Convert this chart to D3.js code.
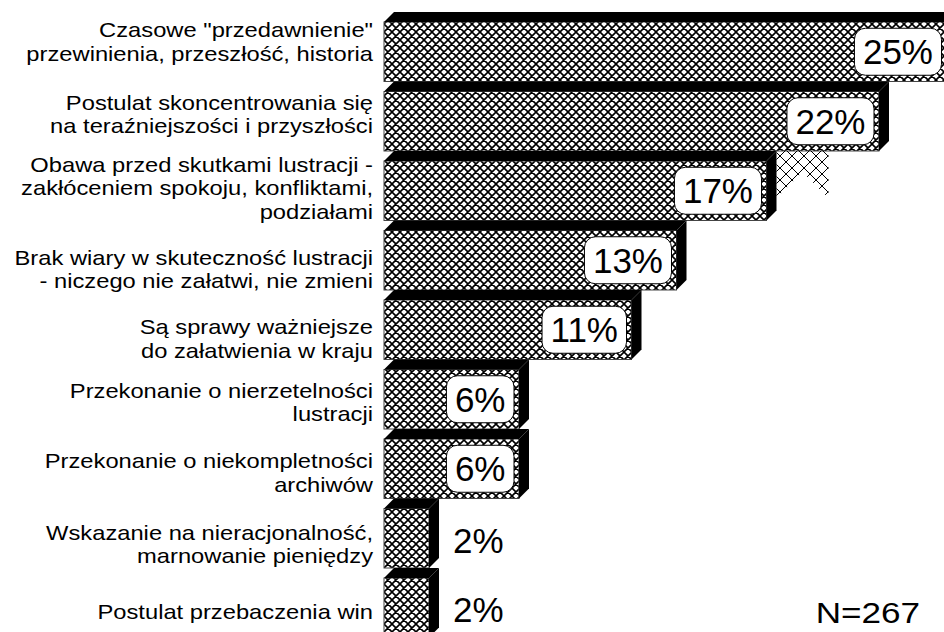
<!DOCTYPE html>
<html>
<head>
<meta charset="utf-8">
<script src="https://cdn.jsdelivr.net/npm/d3@7/dist/d3.min.js"></script>
<style>
  body { margin: 0; background: #fff; }
  svg { display: block; font-family: Arial, "Liberation Sans", sans-serif; }
</style>
</head>
<body>
<div id="chart"></div>
<script>
// categories (each entry is the lines of the left label)
const categories = [
  ["Czasowe \"przedawnienie\"", "przewinienia, przeszłość, historia"],
  ["Postulat skoncentrowania się", "na teraźniejszości i przyszłości"],
  ["Obawa przed skutkami lustracji -", "zakłóceniem spokoju, konfliktami,", "podziałami"],
  ["Brak wiary w skuteczność lustracji", "- niczego nie załatwi, nie zmieni"],
  ["Są sprawy ważniejsze", "do załatwienia w kraju"],
  ["Przekonanie o nierzetelności", "lustracji"],
  ["Przekonanie o niekompletności", "archiwów"],
  ["Wskazanie na nieracjonalność,", "marnowanie pieniędzy"],
  ["Postulat przebaczenia win"]
];
const values = [25, 22, 17, 13, 11, 6, 6, 2, 2];
const note = "N=267";

// the original label boxes sit a little off the bar centres
const labelNudge = [-10, -7, -3, 9, 9, 3, 4, 6, 4];

const width = 944, height = 632;
const left = 384, depth = 10;

const svg = d3.select("#chart").append("svg")
    .attr("width", width)
    .attr("height", height);

const defs = svg.append("defs");

// cross hatch for the bars
const cell = 8;
const pat = defs.append("pattern")
    .attr("id", "hatch")
    .attr("patternUnits", "userSpaceOnUse")
    .attr("width", cell).attr("height", cell);
pat.append("rect").attr("width", cell).attr("height", cell).attr("fill", "#fff");
pat.append("path")
    .attr("d", `M0,0L${cell},${cell}M${cell},0L0,${cell}M-1,${cell - 1}L1,${cell + 1}M${cell - 1},-1L${cell + 1},1M-1,1L1,-1M${cell - 1},${cell + 1}L${cell + 1},${cell - 1}`)
    .attr("stroke", "#000").attr("stroke-width", 1.6);

// wider hatch for the stray piece under the second bar
const pat2 = defs.append("pattern")
    .attr("id", "hatch2")
    .attr("patternUnits", "userSpaceOnUse")
    .attr("width", 12).attr("height", 12);
pat2.append("path")
    .attr("d", "M0,0L12,12M12,0L0,12")
    .attr("stroke", "#000").attr("stroke-width", 1);

const x = d3.scaleLinear().domain([0, 25]).range([0, 562.5]);
const y = d3.scaleBand()
    .domain(d3.range(values.length))
    .range([12, 12 + 69.5 * values.length])
    .paddingInner(0);

const frontH = y.bandwidth() - depth;

const bar = svg.selectAll(".bar")
    .data(values)
    .enter().append("g")
    .attr("class", "bar");

// front face
bar.append("rect")
    .attr("x", left)
    .attr("y", (d, i) => y(i) + depth)
    .attr("width", d => x(d))
    .attr("height", frontH)
    .attr("fill", "url(#hatch)")
    .attr("stroke", "#444")
    .attr("stroke-width", 1);

// top face
bar.append("path")
    .attr("d", (d, i) => {
      const y0 = y(i) + depth, w = x(d);
      return `M${left},${y0}L${left + depth},${y0 - depth}L${left + w + depth},${y0 - depth}L${left + w},${y0}Z`;
    })
    .attr("fill", "#000");

// side face
bar.append("path")
    .attr("d", (d, i) => {
      const y0 = y(i) + depth, w = x(d);
      return `M${left + w},${y0}L${left + w + depth},${y0 - depth}L${left + w + depth},${y0 + frontH - depth}L${left + w},${y0 + frontH}Z`;
    })
    .attr("fill", "#000");

// stray hatched piece seen below the 22% bar
{
  const x0 = left + x(values[2]) + depth, y0 = y(2);
  svg.append("path")
    .attr("d", `M${x0},${y0}L${x0 + 52},${y0}L${x0 + 52},${y0 + 47}L${x0 + 26},${y0 + 21}L${x0},${y0 + 47}Z`)
    .attr("fill", "url(#hatch2)");
}

// value labels
const valFont = 35;
bar.each(function(d, i) {
  const g = d3.select(this);
  const txt = d + "%";
  const cy = y(i) + depth + frontH / 2;
  const t = g.append("text")
      .attr("font-size", valFont)
      .attr("dy", "0.355em")
      .text(txt);
  const tw = t.node().getComputedTextLength();
  const bw = tw + 17, bh = 47;
  const right = left + x(d) - 5;
  if (bw + 8 < x(d)) {
    g.insert("rect", "text")
      .attr("x", right - bw)
      .attr("y", cy - bh / 2)
      .attr("width", bw)
      .attr("height", bh)
      .attr("rx", 11)
      .attr("fill", "#fff")
      .attr("stroke", "#000")
      .attr("stroke-width", 1);
    t.attr("x", right - bw / 2).attr("y", cy).attr("text-anchor", "middle");
  } else {
    t.attr("x", left + x(d) + depth + 14).attr("y", cy + 2).attr("text-anchor", "start");
  }
});

// category labels
const labFont = 21, lineH = 23.5, stretch = 1.13;
const lab = svg.selectAll(".lab")
    .data(categories)
    .enter().append("text")
    .attr("class", "lab")
    .attr("font-size", labFont)
    .attr("text-anchor", "end")
    .attr("transform", (d, i) => {
      const cy = y(i) + depth + frontH / 2 + labelNudge[i] - (d.length - 1) * lineH / 2;
      return `translate(373,${cy}) scale(${stretch},1)`;
    });
lab.selectAll("tspan")
    .data(d => d)
    .enter().append("tspan")
    .attr("x", 0)
    .attr("y", (d, j) => j * lineH)
    .attr("dy", "0.35em")
    .text(d => d);

svg.append("text")
    .attr("font-size", 30)
    .attr("text-anchor", "end")
    .attr("transform", `translate(920,623) scale(1.17,1)`)
    .text(note);
</script>
</body>
</html>
